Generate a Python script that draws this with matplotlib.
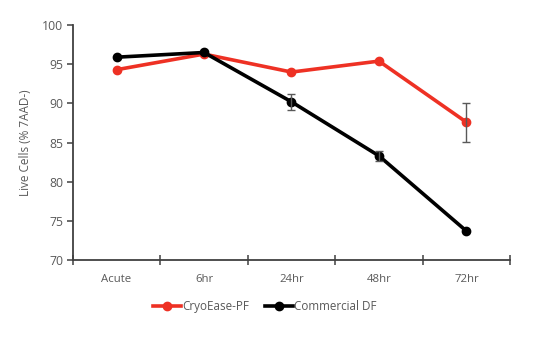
import matplotlib
matplotlib.use("Agg")
import matplotlib.pyplot as plt
import numpy as np

plt.rcParams["font.family"] = ["Open Sans", "DejaVu Sans"]

timepoints = ["Acute", "6hr", "24hr", "48hr", "72hr"]
cryoease_pf = [94.3, 96.3, 94.0, 95.4, 87.6]
cryoease_pf_err = [0.0, 0.0, 0.0, 0.0, 2.5]
commercial_df = [95.9, 96.5, 90.2, 83.3, 73.7]
commercial_df_err = [0.0, 0.0, 1.0, 0.6, 0.0]

TEXT = "#595959"
AXIS = "#404040"

fig = plt.figure(figsize=(5.6, 3.39), dpi=100)
ax = fig.add_axes([0.130, 0.233, 0.781, 0.693])

x = np.arange(len(timepoints))

series = [
    ("CryoEase-PF", cryoease_pf, cryoease_pf_err, "#ee3124"),
    ("Commercial DF", commercial_df, commercial_df_err, "#000000"),
]
handles = []
for label, vals, err, color in series:
    line, = ax.plot(x, vals, color=color, lw=2.6, marker="o", ms=6, label=label, zorder=3)
    handles.append(line)
    yerr = np.array(err)
    mask = yerr > 0
    ax.errorbar(x[mask], np.array(vals)[mask], yerr=yerr[mask], fmt="none",
                ecolor="#595959", elinewidth=1.0, capsize=3, capthick=1.0, zorder=4)

ax.set_xlim(-0.5, len(timepoints) - 0.5)
ax.set_ylim(70, 100)
ax.set_yticks(np.arange(70, 101, 5))
ax.set_xticks(x)
ax.set_xticklabels(timepoints)
ax.set_xticks(np.arange(-0.5, len(timepoints), 1.0), minor=True)

for side in ("top", "right"):
    ax.spines[side].set_visible(False)
for side in ("left", "bottom"):
    ax.spines[side].set_color(AXIS)
    ax.spines[side].set_linewidth(1.3)

ax.tick_params(axis="x", which="major", length=0, pad=10, labelsize=8.2, labelcolor=TEXT)
ax.tick_params(axis="x", which="minor", direction="inout", length=7, width=1.1, color=AXIS)
ax.tick_params(axis="y", direction="out", length=4, width=1.1, color=AXIS,
               pad=3, labelsize=8.8, labelcolor=TEXT)

ax.set_ylabel("Live Cells (% 7AAD-)", fontsize=8.5, color=TEXT, labelpad=7)

fig.legend(handles=handles, loc="center", bbox_to_anchor=(0.473, 0.097), ncol=2,
           frameon=False, fontsize=8.4, labelcolor=TEXT, handlelength=2.4,
           handletextpad=0.1, columnspacing=1.4)

fig.savefig("out.png", dpi=100)
